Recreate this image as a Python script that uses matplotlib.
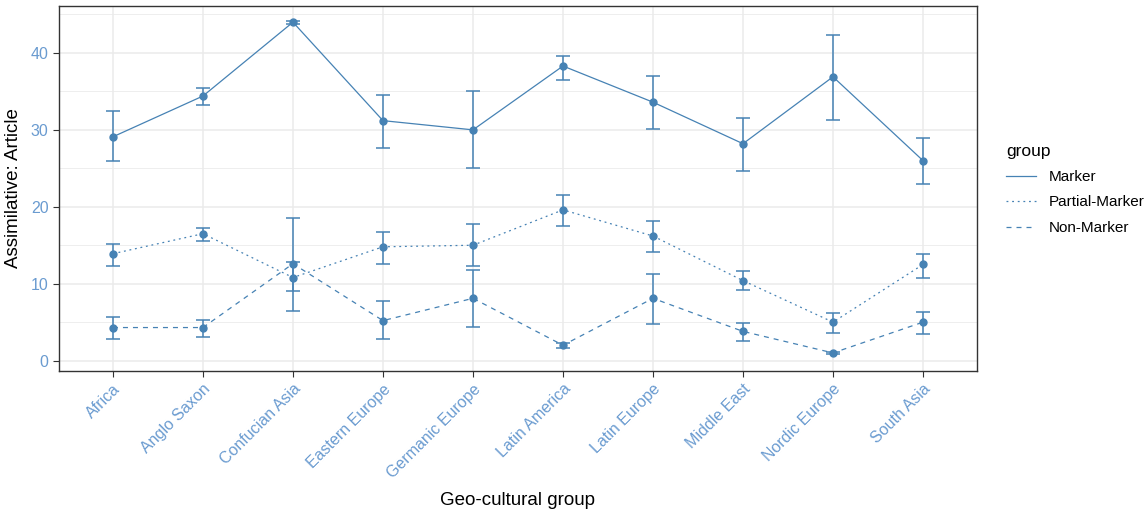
import matplotlib.pyplot as plt
import numpy as np

plt.rcParams['font.family'] = ['Liberation Sans', 'DejaVu Sans']

regions = ['Africa', 'Anglo Saxon', 'Confucian Asia', 'Eastern Europe', 'Germanic Europe',
           'Latin America', 'Latin Europe', 'Middle East', 'Nordic Europe', 'South Asia']

# mean and lower / upper bounds per group
marker = [29.1, 34.4, 44.0, 31.2, 30.0, 38.3, 33.6, 28.2, 36.9, 26.0]
marker_lo = [25.9, 33.2, 43.8, 27.6, 25.0, 36.5, 30.1, 24.7, 31.3, 23.0]
marker_hi = [32.4, 35.5, 44.2, 34.5, 35.0, 39.6, 37.0, 31.6, 42.3, 28.9]

partial = [13.9, 16.5, 10.8, 14.8, 15.0, 19.6, 16.2, 10.4, 5.0, 12.5]
partial_lo = [12.3, 15.6, 9.0, 12.6, 12.3, 17.5, 14.1, 9.2, 3.6, 10.8]
partial_hi = [15.2, 17.2, 12.8, 16.7, 17.7, 21.5, 18.2, 11.6, 6.2, 13.9]

non = [4.3, 4.3, 12.6, 5.2, 8.1, 2.0, 8.1, 3.8, 1.0, 5.0]
non_lo = [2.8, 3.1, 6.4, 2.8, 4.4, 1.6, 4.7, 2.6, 0.9, 3.4]
non_hi = [5.7, 5.3, 18.5, 7.7, 11.8, 2.3, 11.3, 4.9, 1.1, 6.3]

groups = [
    ('Marker', marker, marker_lo, marker_hi, '-'),
    ('Partial-Marker', partial, partial_lo, partial_hi, (0, (1.5, 3))),
    ('Non-Marker', non, non_lo, non_hi, (0, (4, 4))),
]

col = '#4682B4'
tickcol = '#6A9BD0'

fig = plt.figure(figsize=(11.47, 5.15), dpi=100)
ax = fig.add_axes([0.0514, 0.2796, 0.8004, 0.7087])

x = np.arange(1, len(regions) + 1)
handles = []
for name, mean, lo, hi, ls in groups:
    mean = np.array(mean)
    err = [mean - np.array(lo), np.array(hi) - mean]
    ax.errorbar(x, mean, yerr=err, fmt='none', ecolor=col, elinewidth=1.1,
                capsize=4.8, capthick=1.1, zorder=3)
    h, = ax.plot(x, mean, color=col, linestyle=ls, linewidth=0.9, zorder=4, label=name)
    ax.plot(x, mean, 'o', color=col, markersize=5, zorder=5)
    handles.append(h)

ax.set_xlim(0.4, 10.6)
ax.set_ylim(-1.35, 46.1)
ax.set_xticks(x)
ax.set_xticklabels(regions, rotation=45, ha='right', va='top', rotation_mode='anchor')
ax.set_yticks([0, 10, 20, 30, 40])
ax.set_yticks([5, 15, 25, 35, 45], minor=True)

ax.grid(which='major', color='#EBEBEB', linewidth=1.1, zorder=0)
ax.grid(which='minor', color='#EBEBEB', linewidth=0.6, zorder=0)
ax.set_axisbelow(True)
ax.tick_params(axis='both', which='major', colors='#333333', labelcolor=tickcol,
               labelsize=11.5, length=4, width=0.8)
ax.tick_params(axis='y', which='minor', length=0)
for s in ax.spines.values():
    s.set_color('#333333')
    s.set_linewidth(1.0)

ax.set_xlabel('Geo-cultural group', fontsize=13.5, labelpad=8)
ax.set_ylabel('Assimilative: Article', fontsize=13.5, labelpad=6)

leg = fig.legend(handles=handles, title='group', loc='upper left',
                 bbox_to_anchor=(0.865, 0.748), frameon=False, fontsize=11,
                 title_fontsize=12.5, handlelength=2.0, labelspacing=0.75,
                 alignment='left')

fig.savefig('out.png', dpi=100)
